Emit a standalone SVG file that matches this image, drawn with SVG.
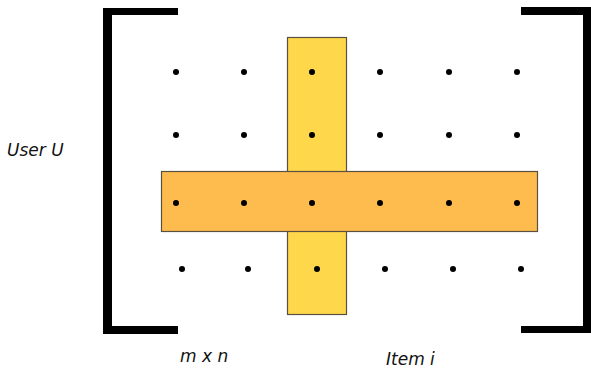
<svg xmlns="http://www.w3.org/2000/svg" width="591" height="372" viewBox="0 0 591 372">
<style>
.br{fill:#000}
.dot{fill:#000}
.lbl{font-family:"DejaVu Sans","Liberation Sans",sans-serif;font-style:italic;font-size:17px;fill:#111}
</style>
<rect width="591" height="372" fill="#fff"/>
<g id="bracket-left">
<rect class="br" x="103" y="8" width="9" height="326"/>
<rect class="br" x="103" y="8" width="75" height="7"/>
<rect class="br" x="103" y="326" width="75" height="8"/>
</g>
<g id="bracket-right">
<rect class="br" x="583" y="7" width="8" height="326"/>
<rect class="br" x="521" y="7" width="70" height="8"/>
<rect class="br" x="521" y="326" width="70" height="7"/>
</g>
<g id="item-column">
<rect x="287.5" y="37.5" width="59" height="277" fill="#FED74A" stroke="#5a5040" stroke-width="1.2"/>
</g>
<g id="user-row">
<rect x="161.5" y="171.5" width="376" height="60" fill="#FEBB4E" stroke="#5a5040" stroke-width="1.2"/>
</g>
<g id="dots">
<circle class="dot" cx="176" cy="72" r="3"/><circle class="dot" cx="244" cy="72" r="3"/><circle class="dot" cx="312" cy="72" r="3"/><circle class="dot" cx="380" cy="72" r="3"/><circle class="dot" cx="449" cy="72" r="3"/><circle class="dot" cx="517" cy="72" r="3"/>
<circle class="dot" cx="176" cy="135" r="3"/><circle class="dot" cx="244" cy="135" r="3"/><circle class="dot" cx="312" cy="135" r="3"/><circle class="dot" cx="380" cy="135" r="3"/><circle class="dot" cx="449" cy="135" r="3"/><circle class="dot" cx="517" cy="135" r="3"/>
<circle class="dot" cx="176" cy="203" r="3"/><circle class="dot" cx="244" cy="203" r="3"/><circle class="dot" cx="312" cy="203" r="3"/><circle class="dot" cx="380" cy="203" r="3"/><circle class="dot" cx="449" cy="203" r="3"/><circle class="dot" cx="517" cy="203" r="3"/>
<circle class="dot" cx="182" cy="269" r="3"/><circle class="dot" cx="248" cy="269" r="3"/><circle class="dot" cx="317" cy="269" r="3"/><circle class="dot" cx="385" cy="269" r="3"/><circle class="dot" cx="453" cy="269" r="3"/><circle class="dot" cx="521" cy="269" r="3"/>
</g>
<g id="labels">
<text class="lbl" x="7" y="156">User U</text>
<text class="lbl" x="180" y="362">m x n</text>
<text class="lbl" x="386" y="365">Item i</text>
</g>
</svg>
